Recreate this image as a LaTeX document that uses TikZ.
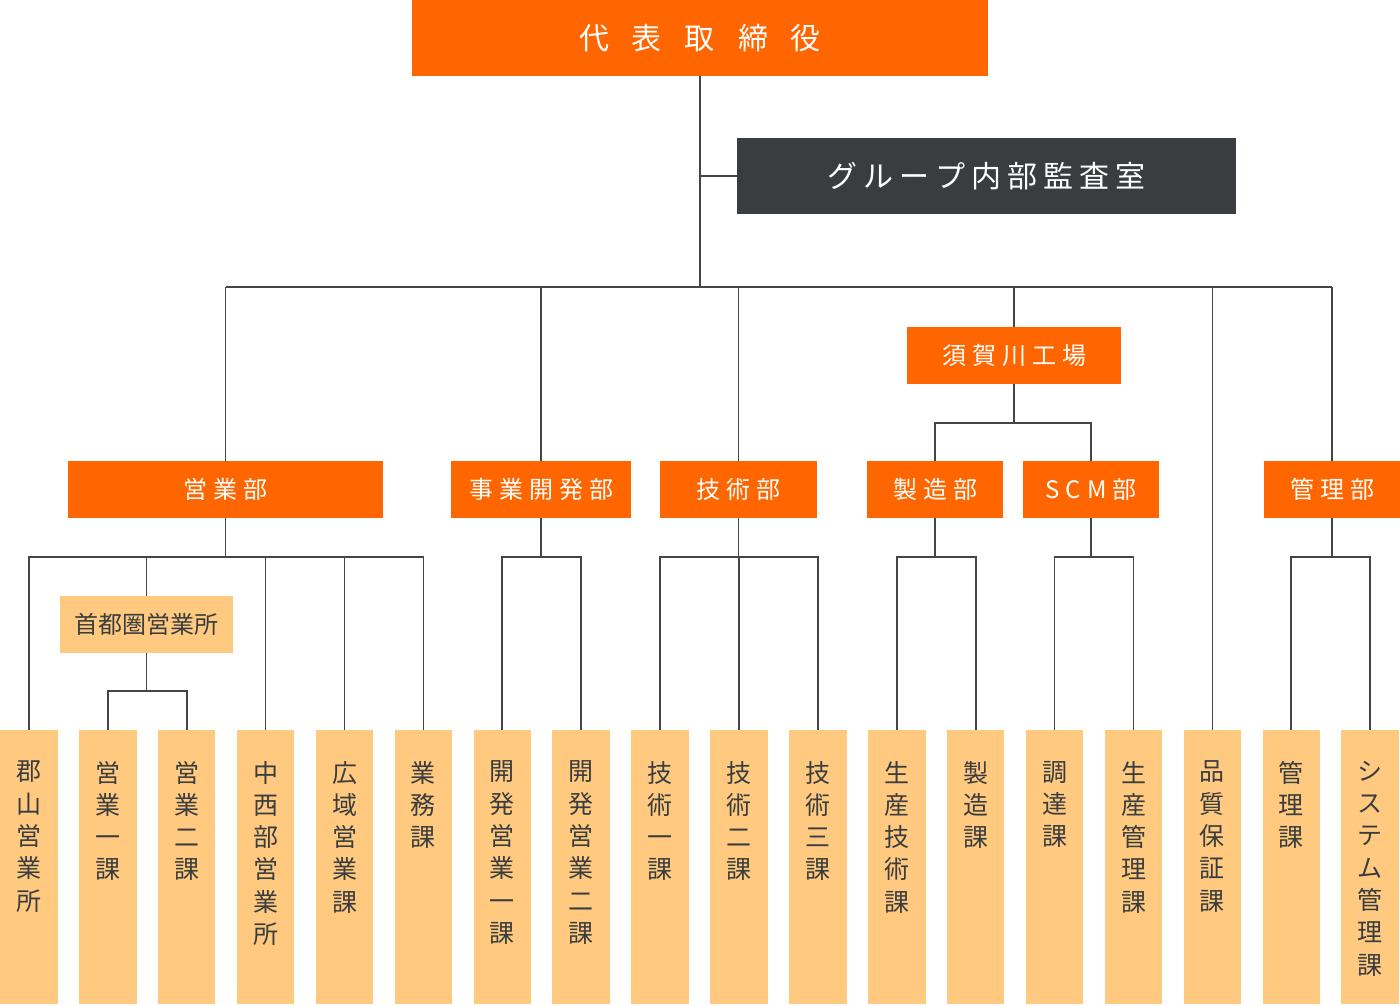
\documentclass[tikz,border=0pt]{standalone}
\usepackage{fontspec}
\newfontfamily\jp{Noto Sans CJK JP}
\usepackage{tikz}
\tikzset{>=latex}
\definecolor{bizorange}{HTML}{FF6600}
\definecolor{bizdark}{HTML}{3A3D3F}
\definecolor{bizlight}{HTML}{FFCA80}
\definecolor{bizline}{HTML}{454545}

% letter spacing between characters of a label
\newcommand{\spaced}[2]{\def\spgap{#2}\spfirst#1\relax}
\def\spfirst#1{#1\spnext}
\def\spnext#1{\ifx#1\relax\else\hspace{\spgap}#1\expandafter\spnext\fi}

\begin{document}
\begin{tikzpicture}[x=1pt,y=-1pt,
    every node/.style={inner sep=0pt},
    topbox/.style={fill=bizorange, text=white, minimum height=76pt,
        font=\jp\fontsize{30}{30}\selectfont},
    deptbox/.style={fill=bizorange, text=white, minimum height=57pt,
        font=\jp\fontsize{24}{24}\selectfont},
    subbox/.style={fill=bizlight, text=bizdark, minimum height=57pt,
        font=\jp\fontsize{24}{24}\selectfont},
    leafbox/.style={fill=bizlight, minimum width=57.5pt, minimum height=274pt},
    leaftext/.style={text=bizdark, align=center, anchor=north,
        font=\jp\fontsize{25}{32.3}\selectfont},
    link/.style={draw=bizline, line width=1.7pt}]
    \useasboundingbox (0,0) rectangle (1400,1006);

    % Top of the chart
    \node[topbox, minimum width=576pt] (ceo) at (700,38) {\spaced{代表取締役}{23pt}};
    \node[topbox, fill=bizdark, minimum width=499pt] (audit) at (986.5,176)
        {\spaced{グループ内部監査室}{6pt}};

    % Divisions
    \node[deptbox, minimum width=214pt] (sukagawa) at (1014,355.5) {\spaced{須賀川工場}{6pt}};
    \node[deptbox, minimum width=315pt] (eigyo) at (225.5,489.5) {\spaced{営業部}{6pt}};
    \node[deptbox, minimum width=180pt] (jigyo) at (541,489.5) {\spaced{事業開発部}{6pt}};
    \node[deptbox, minimum width=157pt] (gijutsu) at (738.5,489.5) {\spaced{技術部}{6pt}};
    \node[deptbox, minimum width=136pt] (seizo) at (935,489.5) {\spaced{製造部}{6pt}};
    \node[deptbox, minimum width=136pt] (scm) at (1091,489.5) {\spaced{SCM部}{6pt}};
    \node[deptbox, minimum width=136pt] (kanri) at (1332,489.5) {\spaced{管理部}{6pt}};
    \node[subbox, minimum width=173pt] (shuto) at (146.5,624.5) {首都圏営業所};

    % Sections, written top to bottom
    \foreach \i/\txt in {0/{郡\\山\\営\\業\\所}, 1/{営\\業\\一\\課}, 2/{営\\業\\二\\課},
        3/{中\\西\\部\\営\\業\\所}, 4/{広\\域\\営\\業\\課}, 5/{業\\務\\課},
        6/{開\\発\\営\\業\\一\\課}, 7/{開\\発\\営\\業\\二\\課}, 8/{技\\術\\一\\課},
        9/{技\\術\\二\\課}, 10/{技\\術\\三\\課}, 11/{生\\産\\技\\術\\課},
        12/{製\\造\\課}, 13/{調\\達\\課}, 14/{生\\産\\管\\理\\課},
        15/{品\\質\\保\\証\\課}, 16/{管\\理\\課}, 17/{シ\\ス\\テ\\ム\\管\\理\\課}} {
        \pgfmathsetmacro{\cx}{28.9+78.9*\i}
        \node[leafbox] (l\i) at (\cx,867) {};
        \node[leaftext] at ([yshift=-31pt]l\i.north) {\txt};
    }

    % Main bus
    \coordinate (bus) at (700,287);
    \draw[link] (ceo.south) -- (bus);
    \draw[link] (ceo.south |- audit.west) -- (audit.west);
    \draw[link] (eigyo.north |- bus) -- (kanri.north |- bus);
    \foreach \n in {eigyo, jigyo, gijutsu, sukagawa, kanri, l15}
        \draw[link] (\n.north |- bus) -- (\n.north);

    % Factory
    \coordinate (fbus) at (1014,423);
    \draw[link] (sukagawa.south) -- (fbus);
    \draw[link] (seizo.north) -- (seizo.north |- fbus) -- (scm.north |- fbus) -- (scm.north);

    % Division to sections
    \coordinate (lbus) at (0,557);
    \foreach \p/\a/\b in {eigyo/0/5, jigyo/6/7, gijutsu/8/10, seizo/11/12, scm/13/14, kanri/16/17} {
        \draw[link] (\p.south) -- (\p.south |- lbus);
        \draw[link] (l\a.north) -- (l\a.north |- lbus) -- (l\b.north |- lbus) -- (l\b.north);
    }
    \foreach \k in {3,4,9}
        \draw[link] (l\k.north |- lbus) -- (l\k.north);
    \draw[link] (shuto.north |- lbus) -- (shuto.north);

    % Sales office
    \coordinate (sbus) at (0,691);
    \draw[link] (shuto.south) -- (shuto.south |- sbus);
    \draw[link] (l1.north) -- (l1.north |- sbus) -- (l2.north |- sbus) -- (l2.north);
\end{tikzpicture}
\end{document}
